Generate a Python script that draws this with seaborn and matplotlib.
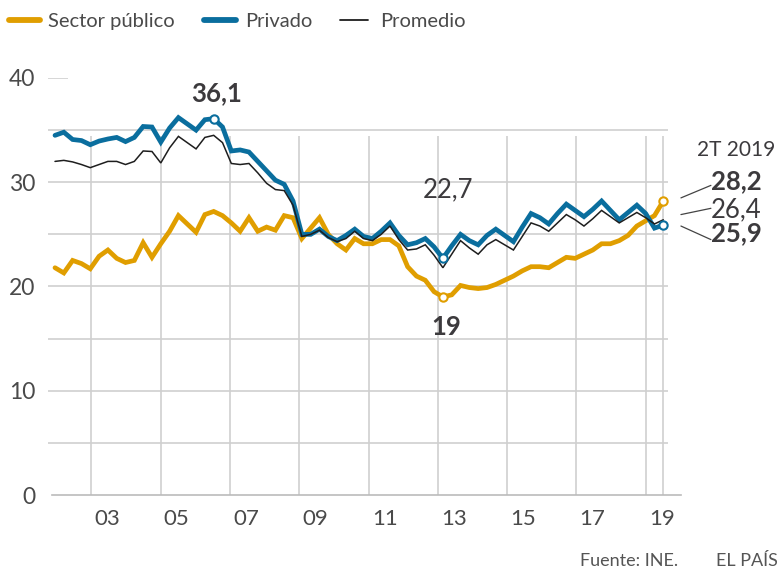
import matplotlib
matplotlib.use("Agg")
import matplotlib.pyplot as plt
import seaborn as sns
import pandas as pd
from matplotlib.lines import Line2D

# ---------------- data (tasa de temporalidad, %) ----------------
years = list(range(2002, 2020))
periodos = [f"{y}T{q}" for y in years for q in range(1, 5)][:70]  # 2002T1 .. 2019T2

publico = [21.8, 21.3, 22.5, 22.2, 21.7, 22.9, 23.5, 22.7, 22.3, 22.5,
           24.2, 22.8, 24.1, 25.3, 26.8, 26.0, 25.2, 26.9, 27.2, 26.8,
           26.1, 25.3, 26.6, 25.3, 25.7, 25.4, 26.8, 26.6, 24.6, 25.6,
           26.6, 25.0, 24.1, 23.5, 24.6, 24.1, 24.1, 24.5, 24.5, 23.9,
           21.9, 21.0, 20.6, 19.5, 19.0, 19.2, 20.1, 19.9, 19.8, 19.9,
           20.2, 20.6, 21.0, 21.5, 21.9, 21.9, 21.8, 22.3, 22.8, 22.7,
           23.1, 23.5, 24.1, 24.1, 24.4, 24.9, 25.8, 26.3, 26.8, 28.2]

privado = [34.5, 34.8, 34.1, 34.0, 33.6, 33.95, 34.15, 34.3, 33.9, 34.3,
           35.35, 35.3, 33.85, 35.2, 36.2, 35.6, 35.0, 36.0, 36.1, 35.3,
           33.0, 33.1, 32.9, 32.0, 31.1, 30.2, 29.8, 28.2, 25.0, 25.0,
           25.5, 24.8, 24.4, 24.9, 25.5, 24.8, 24.6, 25.3, 26.1, 24.9,
           24.0, 24.2, 24.6, 23.8, 22.7, 23.9, 25.0, 24.4, 24.0, 24.9,
           25.5, 24.9, 24.3, 25.7, 27.0, 26.6, 26.0, 27.0, 27.9, 27.3,
           26.7, 27.4, 28.2, 27.3, 26.4, 27.1, 27.8, 27.0, 25.6, 25.9]

promedio = [32.0, 32.1, 31.95, 31.7, 31.4, 31.7, 32.0, 32.0, 31.7, 32.0,
            33.0, 32.95, 31.85, 33.3, 34.4, 33.8, 33.2, 34.3, 34.5, 33.8,
            31.8, 31.7, 31.8, 30.9, 29.9, 29.3, 29.2, 27.8, 24.8, 25.0,
            25.4, 24.7, 24.3, 24.6, 25.3, 24.6, 24.4, 25.0, 25.8, 24.5,
            23.5, 23.6, 24.0, 23.0, 21.8, 23.1, 24.4, 23.7, 23.1, 24.0,
            24.5, 24.0, 23.5, 24.8, 26.1, 25.8, 25.3, 26.1, 26.9, 26.4,
            25.8, 26.5, 27.3, 26.7, 26.1, 26.6, 27.1, 26.6, 26.0, 26.4]

series_names = ["Sector público", "Privado", "Promedio"]
tick_labels = ["03", "05", "07", "09", "11", "13", "15", "17", "19"]
y_ticks = [0, 10, 20, 30, 40]

# highlighted points: (series, period, label)
destacados = [("Privado", "2006T3", "36,1"),
              ("Privado", "2013T1", "22,7"),
              ("Sector público", "2013T1", "19")]
ultimo_label = "2T 2019"

# ---------------- styling ----------------
C_PUB = "#E09E00"
C_PRI = "#0A6E9E"
C_AVG = "#1E1E1E"
GRID = "#CFCFCF"
TXT = "#3C3A3D"
LAB = "#4A4A4A"

sns.set_theme(style="white")
plt.rcParams["font.family"] = ["Lato", "DejaVu Sans"]

df = pd.DataFrame({
    "periodo": periodos * 3,
    "idx": list(range(len(periodos))) * 3,
    "valor": publico + privado + promedio,
    "serie": [series_names[0]] * 70 + [series_names[1]] * 70 + [series_names[2]] * 70,
})

fig = plt.figure(figsize=(7.82, 5.69), dpi=100)
W, H = 782, 569
ax = fig.add_axes([48 / W, (H - 495) / H, (681 - 48) / W, (495 - 78) / H])

# x geometry (quarter index units)
px_per_q = 8.816
x_left = (48 - 55) / px_per_q
x_right = (681 - 55) / px_per_q
TICK0, YEAR = 0.2, 3.93
year_bounds = [TICK0 + YEAR * k for k in range(19)]
label_pos = [TICK0 + YEAR * (k + 0.5) - 0.15 for k in range(1, 18, 2)]
last = len(periodos) - 1

# grid
for v in range(5, 40, 5):
    ax.hlines(v, x_left, (668 - 55) / px_per_q, color=GRID, lw=1.2, zorder=0)
ax.hlines(40, x_left, (68 - 55) / px_per_q, color=GRID, lw=1.2, zorder=0)
for k in range(1, 18, 2):
    ax.vlines(year_bounds[k], 0, 34.4, color=GRID, lw=1.2, zorder=0)
ax.vlines(last, 0, 34.4, color=GRID, lw=1.2, zorder=0)

# lines
styles = {series_names[0]: (C_PUB, 3.4), series_names[1]: (C_PRI, 3.4), series_names[2]: (C_AVG, 1.1)}
for name in [series_names[2], series_names[0], series_names[1]]:
    c, lw = styles[name]
    sub = df[df["serie"] == name]
    sns.lineplot(data=sub, x="idx", y="valor", color=c, lw=lw, ax=ax, legend=False,
                 zorder=3 if name != series_names[2] else 4, solid_joinstyle="miter")

# markers
def val(serie, per):
    r = df[(df["serie"] == serie) & (df["periodo"] == per)]
    return int(r["idx"].iloc[0]), float(r["valor"].iloc[0])

for serie, per, lab in destacados:
    i, v = val(serie, per)
    ax.plot(i, v, "o", ms=6, mfc="white", mec=styles[serie][0], mew=1.5, zorder=6)
for serie in series_names[:2]:
    i, v = last, df[df["serie"] == serie]["valor"].iloc[-1]
    ax.plot(i, v, "o", ms=6, mfc="white", mec=styles[serie][0], mew=1.5, zorder=6, clip_on=False)

# annotations
AN = 18.5
i, v = val("Privado", "2006T3")
ax.text(i + 0.35, 38.5, "36,1", ha="center", va="center", fontsize=AN, fontweight="bold", color=TXT)
i, v = val("Privado", "2013T1")
ax.text(i + 0.55, 29.3, "22,7", ha="center", va="center", fontsize=AN, color=TXT)
i, v = val("Sector público", "2013T1")
ax.text(i + 0.4, 16.1, "19", ha="center", va="center", fontsize=AN, fontweight="bold", color=TXT)

xr = 74.4
ax.text(x_right + 10.7, 33.1, ultimo_label, ha="right", va="center", fontsize=15, color=TXT, clip_on=False)
ax.text(xr, 30.1, f"{publico[-1]:.1f}".replace(".", ","), ha="left", va="center", fontsize=AN,
        fontweight="bold", color=TXT, clip_on=False)
ax.text(xr, 27.4, f"{promedio[-1]:.1f}".replace(".", ","), ha="left", va="center", fontsize=AN,
        color=TXT, clip_on=False)
ax.text(xr, 25.1, f"{privado[-1]:.1f}".replace(".", ","), ha="left", va="center", fontsize=AN,
        fontweight="bold", color=TXT, clip_on=False)
for (y0, y1) in [(28.5, 29.7), (26.9, 27.5), (25.8, 24.5)]:
    ax.plot([71.0, 74.4], [y0, y1], color="#444444", lw=0.9, clip_on=False)

# axes
ax.set_xlim(x_left, x_right)
ax.set_ylim(0, 40)
for s in ["top", "right", "left"]:
    ax.spines[s].set_visible(False)
ax.spines["bottom"].set_color("#BBBBBB")
ax.spines["bottom"].set_linewidth(1.2)
ax.spines["bottom"].set_bounds((52 - 55) / px_per_q, x_right)
ax.set_xticks(year_bounds)
ax.set_xticklabels([])
ax.tick_params(axis="x", which="major", length=6, width=1.2, color="#BBBBBB", direction="out")
ax.set_xticks(label_pos, minor=True)
ax.set_xticklabels(tick_labels, minor=True)
ax.tick_params(axis="x", which="minor", length=0, pad=10, labelsize=16, labelcolor=LAB)
ax.set_yticks(y_ticks)
ax.set_yticklabels([str(t) for t in y_ticks])
ax.tick_params(axis="y", length=0, pad=9, labelsize=16.5, labelcolor=LAB)
ax.set_xlabel("")
ax.set_ylabel("")
ax.grid(False)

# legend (drawn by hand in figure pixels)
ly = 1 - 20 / H
leg = [(9, 40, C_PUB, 4.2, 48, series_names[0]),
       (204, 236, C_PRI, 4.2, 245, series_names[1]),
       (340, 368, C_AVG, 1.3, 380, series_names[2])]
for x0, x1, c, lw, xt, name in leg:
    fig.add_artist(Line2D([x0 / W, x1 / W], [ly, ly], color=c, lw=lw, solid_capstyle="round",
                          transform=fig.transFigure))
    fig.text(xt / W, ly - 0.002, name, ha="left", va="center", fontsize=14.5, color=LAB)

# footer
fig.text(678 / W, 1 - 561 / H, "Fuente: INE.", ha="right", va="center", fontsize=13, color="#555555")
fig.text(778 / W, 1 - 561 / H, "EL PAÍS", ha="right", va="center", fontsize=13, color="#555555")

fig.savefig("out.png", dpi=100)
